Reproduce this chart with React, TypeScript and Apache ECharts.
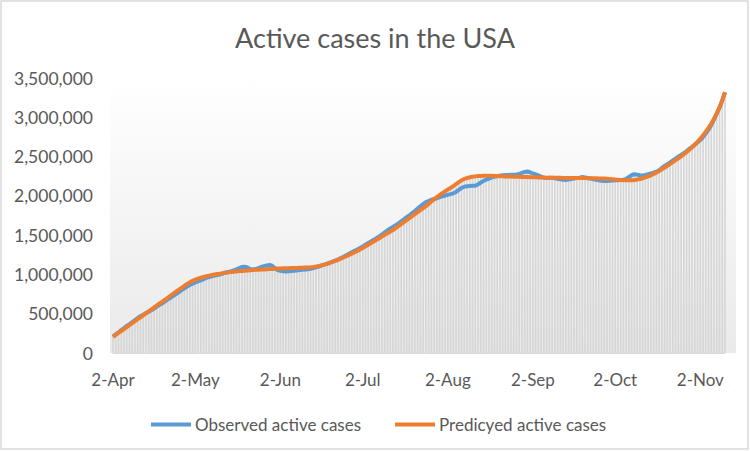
import React, { useEffect, useRef } from "react";
import * as echarts from "echarts";

// Daily values (thousands) from 2-Apr to 11-Nov
const observedK: number[] = [
  210, 238, 262, 292, 318, 344, 368, 392, 418, 445, 468, 488, 508, 526,
  545, 566, 590, 612, 634, 658, 682, 704, 728, 750, 775, 800, 822, 846,
  865, 882, 898, 912, 925, 940, 955, 966, 975, 985, 992, 1000, 1012, 1025,
  1030, 1040, 1052, 1066, 1082, 1096, 1098, 1088, 1070, 1062, 1068, 1080, 1095, 1105, 1115, 1120, 1110, 1080, 1055, 1045,
  1040, 1038, 1040, 1044, 1048, 1050, 1055, 1060, 1062, 1066, 1072, 1080, 1090, 1100,
  1115, 1126, 1138, 1150, 1162, 1176, 1192, 1208, 1225, 1245, 1262, 1282, 1300, 1318, 1335,
  1355, 1378, 1400, 1420, 1440,
  1462, 1484, 1508, 1535, 1560, 1585, 1605,
  1628, 1650, 1676, 1702, 1728, 1752,
  1780, 1808, 1838, 1868, 1895, 1920,
  1935, 1950, 1960, 1970, 1982, 1995,
  2002, 2012, 2022, 2032, 2050, 2075, 2100,
  2116, 2122, 2125, 2128, 2130, 2145,
  2170, 2190, 2205, 2220, 2235, 2243, 2250, 2258, 2262,
  2264, 2266, 2268, 2270, 2273, 2280, 2292, 2305, 2310, 2300, 2285, 2273, 2260, 2245, 2232, 2228, 2230, 2232,
  2225, 2218, 2210, 2205, 2203, 2208, 2215, 2222, 2228, 2232, 2240, 2235, 2228, 2220, 2212, 2205, 2198, 2192, 2190, 2190,
  2192, 2195, 2198, 2200, 2202, 2205, 2215, 2240, 2265, 2275, 2270, 2262,
  2260, 2265, 2275, 2285, 2295, 2310, 2325,
  2355, 2380, 2402, 2425, 2450, 2475, 2500, 2520, 2545, 2570, 2598, 2625, 2655,
  2680, 2710, 2748, 2792, 2842, 2900, 2970, 3045, 3125, 3215, 3318,
];

const predictedK: number[] = [
  205, 230, 255, 280, 305, 330, 355, 380, 405, 430, 455, 480, 505, 530,
  555, 580, 605, 630, 655, 680, 705, 730, 755, 780, 805, 830, 855, 879,
  900, 918, 933, 946, 958, 968, 977, 985, 992, 999, 1005, 1010, 1015, 1020,
  1026, 1030, 1034, 1038, 1042, 1045, 1048, 1051, 1054, 1056, 1058, 1060, 1062, 1064, 1066, 1068, 1070, 1072, 1074, 1076,
  1078, 1079, 1080, 1081, 1082, 1083, 1084, 1085, 1087, 1089, 1092, 1096, 1101, 1107,
  1115, 1124, 1134, 1146, 1159, 1172, 1186, 1200, 1215, 1231, 1248, 1265, 1282, 1300, 1318,
  1337, 1358, 1378, 1399, 1420,
  1441, 1461, 1482, 1503, 1524, 1544, 1565,
  1590, 1615, 1640, 1666, 1691, 1717,
  1742, 1767, 1792, 1818, 1844, 1870,
  1898, 1928, 1958, 1983, 2009, 2035,
  2058, 2080, 2101, 2125, 2150, 2175, 2198,
  2215, 2227, 2236, 2243, 2248, 2252,
  2254, 2255, 2256, 2256, 2255, 2254, 2252, 2250, 2248,
  2247, 2246, 2245, 2244, 2243, 2242, 2241, 2240, 2239, 2238, 2237, 2236, 2235, 2234, 2233, 2232, 2231, 2230,
  2230, 2229, 2229, 2228, 2228, 2228, 2227, 2227, 2227, 2226, 2226, 2226, 2225, 2225, 2224, 2223, 2222, 2221, 2220, 2218,
  2215, 2212, 2208, 2205, 2202, 2200, 2199, 2199, 2200, 2203, 2208, 2215,
  2224, 2235, 2248, 2262, 2278, 2296, 2316,
  2338, 2360, 2383, 2406, 2430, 2454, 2478, 2503, 2529, 2557, 2587, 2618, 2650,
  2688, 2728, 2770, 2815, 2865, 2920, 2982, 3050, 3125, 3215, 3320,
];

const monthNames = ["Jan", "Feb", "Mar", "Apr", "May", "Jun", "Jul", "Aug", "Sep", "Oct", "Nov", "Dec"];
const categories: string[] = predictedK.map((_, i) => {
  const d = new Date(2020, 3, 2 + i);
  return `${d.getDate()}-${monthNames[d.getMonth()]}`;
});

const yTicks = { min: 0, max: 3500000, interval: 500000 };
const seriesNames = ["Observed active cases", "Predicyed active cases"];

const FONT = "Lato, 'Open Sans', sans-serif";
const TXT = "#595959";

export default function App() {
  const ref = useRef<HTMLDivElement>(null);
  useEffect(() => {
    if (!ref.current) return;
    const chart = echarts.init(ref.current, undefined, { renderer: "svg" });
    const observed = observedK.map((v) => v * 1000);
    const predicted = predictedK.map((v) => v * 1000);
    const drop = observed.map((v, i) => Math.max(v, predicted[i]));
    chart.setOption({
      animation: false,
      backgroundColor: "#ffffff",
      textStyle: { fontFamily: FONT },
      title: {
        text: "Active cases in the USA",
        left: "center",
        top: 19,
        textStyle: { fontFamily: FONT, fontSize: 27, fontWeight: "normal", color: TXT },
      },
      graphic: [
        {
          type: "rect",
          z: -10,
          silent: true,
          shape: { x: 1, y: 1, width: 747, height: 448 },
          style: { fill: "none", stroke: "#d9d9d9", lineWidth: 1.5 },
        },
        {
          type: "rect",
          z: -10,
          silent: true,
          shape: { x: 110, y: 78, width: 626, height: 275 },
          style: {
            fill: new echarts.graphic.LinearGradient(0, 0, 0, 1, [
              { offset: 0, color: "#ffffff" },
              { offset: 1, color: "#eaeaea" },
            ]),
          },
        },
      ],
      legend: {
        left: 146,
        top: 411,
        itemWidth: 40,
        itemHeight: 4,
        itemGap: 34,
        icon: "rect",
        data: seriesNames,
        textStyle: { fontFamily: FONT, fontSize: 17, color: TXT, padding: [0, 0, 0, -1] },
      },
      grid: { left: 113, right: 25, top: 78, bottom: 98 },
      xAxis: {
        type: "category",
        data: categories,
        boundaryGap: false,
        axisTick: { show: false },
        axisLine: { lineStyle: { color: "#d9d9d9", width: 1 } },
        axisLabel: {
          interval: (_i: number, v: string) => v.startsWith("2-"),
          color: TXT,
          fontFamily: FONT,
          fontSize: 17,
          margin: 18,
        },
        splitLine: { show: false },
      },
      yAxis: {
        type: "value",
        min: yTicks.min,
        max: yTicks.max,
        interval: yTicks.interval,
        axisLine: { show: false },
        axisTick: { show: false },
        splitLine: { show: false },
        axisLabel: {
          color: TXT,
          fontFamily: FONT,
          fontSize: 17.5,
          margin: 20,
          formatter: (v: number) => v.toLocaleString("en-US"),
        },
      },
      series: [
        {
          name: "drop",
          type: "bar",
          data: drop,
          barWidth: 1.7,
          silent: true,
          itemStyle: { color: "#d6d6d6" },
          z: 1,
          clip: false,
        },
        {
          name: seriesNames[0],
          type: "line",
          data: observed,
          showSymbol: false,
          lineStyle: { color: "#5B9BD5", width: 4 },
          itemStyle: { color: "#5B9BD5" },
          z: 3,
        },
        {
          name: seriesNames[1],
          type: "line",
          data: predicted,
          showSymbol: false,
          lineStyle: { color: "#ED7D31", width: 4 },
          itemStyle: { color: "#ED7D31" },
          z: 4,
        },
      ],
    });
    return () => chart.dispose();
  }, []);
  return (
    <div
      ref={ref}
      style={{ position: "fixed", left: 0, top: 0, width: 750, height: 451 }}
    />
  );
}
